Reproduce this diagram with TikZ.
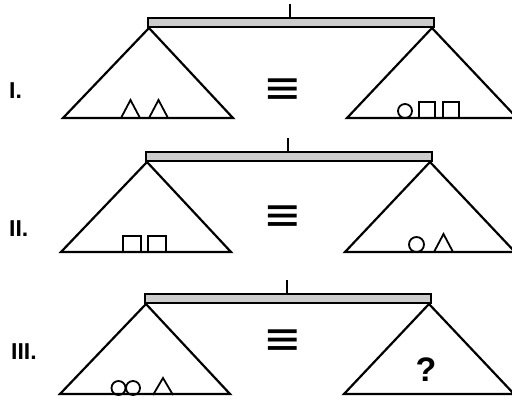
\documentclass[tikz,border=0pt]{standalone}
\usepackage{fontspec}
\newfontfamily\labelfont{Liberation Sans}
\newfontfamily\symfont{DejaVu Sans}
\usetikzlibrary{positioning}

\begin{document}
\begin{tikzpicture}[
    x=1pt, y=-1pt,
    pan/.style={line width=2.2pt, line join=miter},
    beam/.style={draw, line width=1.7pt, fill=gray!40},
    item/.style={line width=1.8pt},
    lbl/.style={font=\labelfont\bfseries\fontsize{23}{23}\selectfont, anchor=west, inner sep=0pt},
    equiv/.style={font=\symfont\fontsize{46}{46}\selectfont, inner sep=0pt},
    qmark/.style={font=\labelfont\bfseries\fontsize{34}{34}\selectfont, inner sep=0pt}
  ]
  \clip (0,0) rectangle (512,403);

  % the three balances
  \foreach \r/\dx/\dy in {I/2/0, II/0/134, III/-1/276} {
    \begin{scope}[shift={(\dx,\dy)}]
      \coordinate (apexL\r) at (147,28);
      \coordinate (apexR\r) at (430,28);
      \draw[beam] (146,18) rectangle (432,27);
      \draw[line width=1.6pt] (288,4) -- (288,18);
      \draw[pan] (61,118) -- (apexL\r) -- (231,118) -- cycle;
      \draw[pan] (345,118) -- (apexR\r) -- (515,118) -- cycle;
    \end{scope}
  }

  % labels
  \node[lbl] (numI) at (9,91) {I.};
  \node[lbl] (numII) at (9,229) {II.};
  \node[lbl] (numIII) at (11,352) {III.};
  \node[equiv] (eqI) at (283,91) {≡};
  \node[equiv] (eqII) at (283,218) {≡};
  \node[equiv] (eqIII) at (283,342) {≡};
  \node[qmark] (ask) at (426,370) {?};

  % row I
  \draw[item] (121,118) -- ++(9.5,-18) -- ++(9.5,18);
  \draw[item] (149,118) -- ++(9.5,-18) -- ++(9.5,18);
  \draw[item] (405,111) circle[radius=7];
  \draw[item] (419,118) rectangle ++(16,-16);
  \draw[item] (443,118) rectangle ++(16,-16);

  % row II
  \draw[item] (123,252) rectangle ++(18,-16);
  \draw[item] (148,252) rectangle ++(18,-16);
  \draw[item] (416.5,244.5) circle[radius=7.5];
  \draw[item] (434,252) -- ++(9.5,-18) -- ++(9.5,18);

  % row III
  \draw[item] (118.5,388) circle[radius=7];
  \draw[item] (133,388) circle[radius=7];
  \draw[item] (153,395) -- ++(10,-17) -- ++(10,17);

\end{tikzpicture}
\end{document}
